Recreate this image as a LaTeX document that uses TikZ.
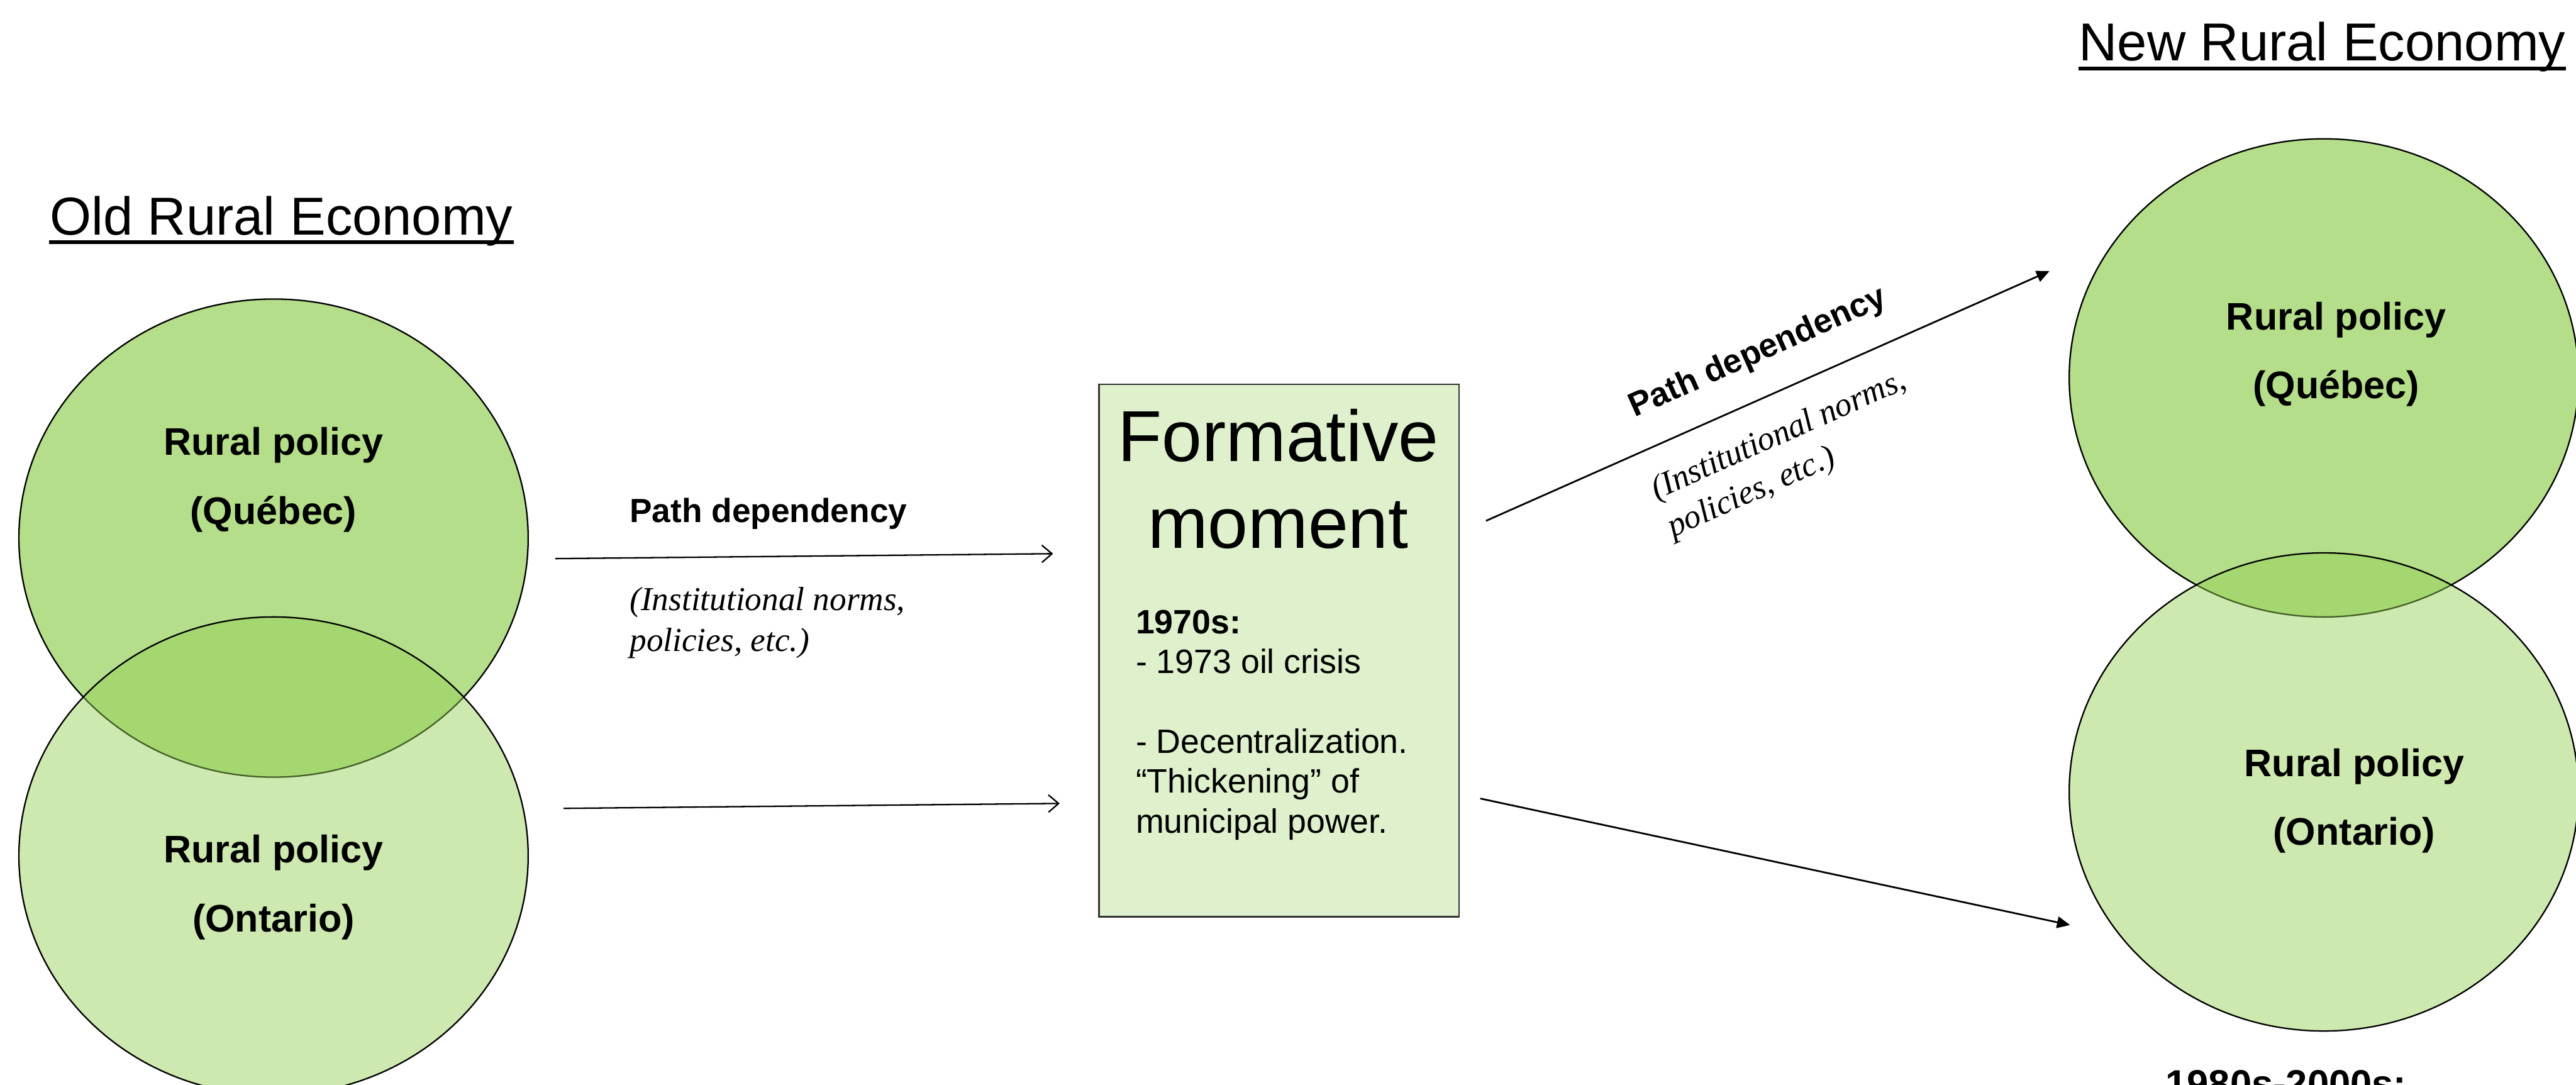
\documentclass[tikz,border=0pt]{standalone}
\usepackage{fontspec}
\setmainfont{Liberation Sans}
\newfontfamily\normsfont{Liberation Serif}
\usetikzlibrary{arrows.meta,shapes.geometric}

\definecolor{quebecgreen}{RGB}{180,222,137}
\definecolor{ontariogreen}{RGB}{146,207,83}
\definecolor{momentgreen}{RGB}{223,240,204}

\tikzset{
	economy/.style={inner sep=0pt, font=\fontsize{18.5}{22}\selectfont},
	underbar/.style={line width=1.3pt},
	region/.style={ellipse, draw, line width=0.5pt, inner sep=0pt, minimum width=6.2cm, minimum height=5.82cm},
	quebec/.style={region, fill=quebecgreen},
	ontario/.style={region, fill=ontariogreen, fill opacity=0.46},
	policy/.style={align=center, inner sep=0pt, font=\bfseries\fontsize{13.3}{23.8}\selectfont},
	pathlabel/.style={inner sep=0pt, font=\bfseries\fontsize{11.6}{14}\selectfont},
	normslabel/.style={align=left, inner sep=0pt, font=\normsfont\itshape\fontsize{11.6}{14.2}\selectfont},
	carry/.style={line width=0.5pt, -{Straight Barb[length=3.5pt,width=6pt]}},
	branch/.style={line width=0.6pt, -{Triangle[length=4.5pt,width=4pt]}}
}

\begin{document}
\begin{tikzpicture}
	\useasboundingbox (0,0) rectangle (31.36,13.2);

	\node[economy, anchor=base west] (oldeco) at (0.6,10.34) {Old Rural Economy};
	\draw[underbar] ([yshift=-2.6pt]oldeco.base west) -- ([yshift=-2.6pt]oldeco.base east);
	\node[economy, anchor=base west] (neweco) at (25.3,12.46) {New Rural Economy};
	\draw[underbar] ([yshift=-2.6pt]neweco.base west) -- ([yshift=-2.6pt]neweco.base east);

	\node[quebec] (qcold) at (3.33,6.65) {};
	\node[ontario] (onold) at (3.33,2.78) {};
	\node[quebec] (qcnew) at (28.29,8.6) {};
	\node[ontario] (onnew) at (28.29,3.56) {};

	\node[policy] (qcoldtext) at (3.33,7.36) {Rural policy\\(Québec)};
	\node[policy] (onoldtext) at (3.33,2.4) {Rural policy\\(Ontario)};
	\node[policy] (qcnewtext) at (28.44,8.89) {Rural policy\\(Québec)};
	\node[policy] (onnewtext) at (28.66,3.45) {Rural policy\\(Ontario)};

	\node[draw=black!80, fill=momentgreen, line width=0.5pt, minimum width=4.38cm, minimum height=6.48cm, inner sep=0pt] (moment) at (15.57,5.28) {};
	\node[align=center, inner sep=0pt, font=\fontsize{25}{30}\selectfont] (momenttitle) at (15.56,7.37) {Formative\\moment};
	\node[align=left, inner sep=0pt, anchor=north west, font=\fontsize{11.7}{13.8}\selectfont] (events) at (13.82,5.78) {\textbf{1970s:}\\- 1973 oil crisis\\[13.8pt]- Decentralization.\\“Thickening” of\\municipal power.};

	\coordinate (qcout) at (6.76,6.4);
	\coordinate (qcin) at (12.82,6.46);
	\coordinate (onout) at (6.86,3.36);
	\coordinate (onin) at (12.9,3.42);
	\coordinate (upout) at (18.09,6.86);
	\coordinate (upin) at (24.95,9.9);
	\coordinate (downout) at (18.02,3.48);
	\coordinate (downin) at (25.2,1.94);

	\draw[carry] (qcout) -- (qcin);
	\draw[carry] (onout) -- (onin);
	\draw[branch] (upout) -- (upin);
	\draw[branch] (downout) -- (downin);

	\node[pathlabel, anchor=base west] (pathleft) at (7.66,6.84) {Path dependency};
	\node[normslabel, anchor=north west] (normsleft) at (7.66,6.06) {(Institutional norms,\\policies, etc.)};
	\node[pathlabel, rotate=24] (pathright) at (21.4,8.9) {Path dependency};
	\node[normslabel, rotate=24] (normsright) at (21.76,7.66) {(Institutional norms,\\policies, etc.)};

	\node[font=\bfseries\fontsize{13.4}{16}\selectfont, inner sep=0pt, anchor=base] (later) at (27.83,-0.16) {1980s-2000s:};
\end{tikzpicture}
\end{document}
